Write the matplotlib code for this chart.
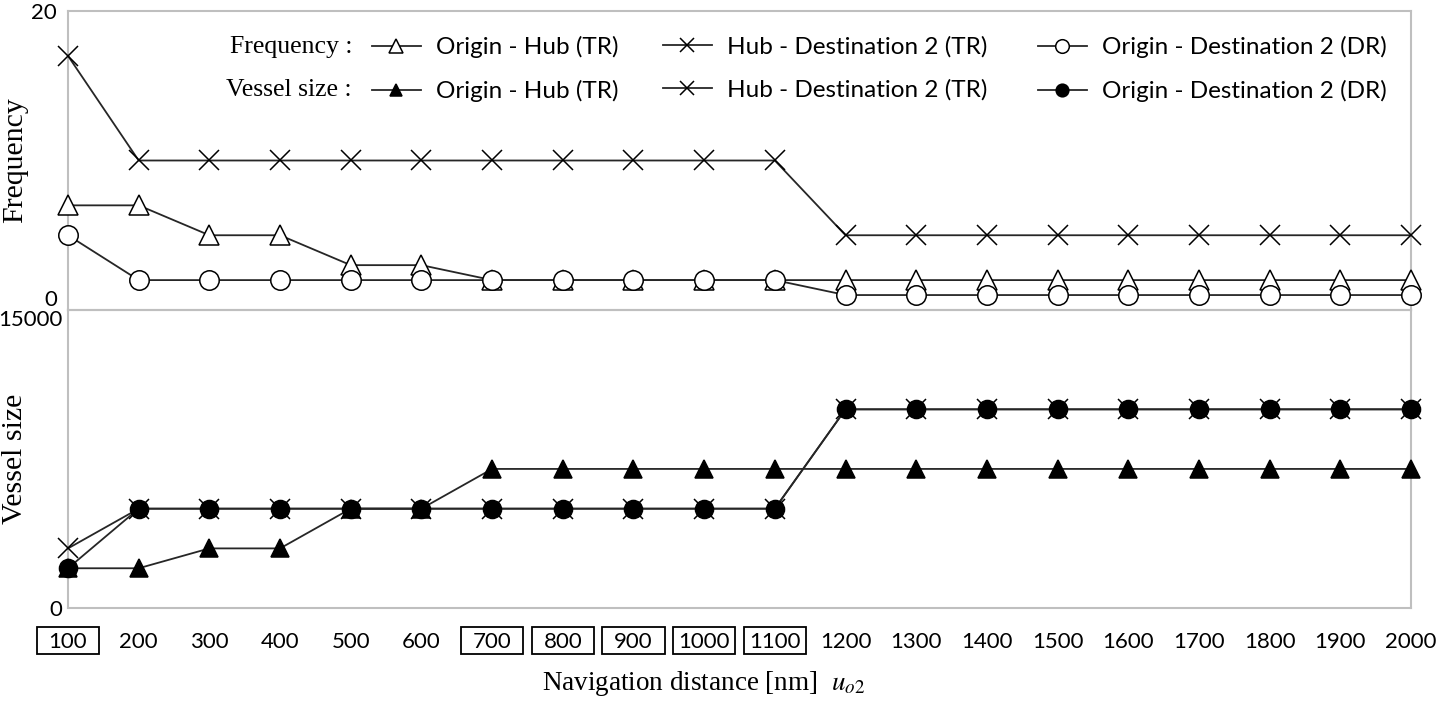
import matplotlib
matplotlib.use('Agg')
import matplotlib.pyplot as plt
from matplotlib.patches import Rectangle
from matplotlib.legend import Legend
import matplotlib.transforms as mtransforms

# ---------------- data ----------------
distances = [100, 200, 300, 400, 500, 600, 700, 800, 900, 1000,
             1100, 1200, 1300, 1400, 1500, 1600, 1700, 1800, 1900, 2000]
boxed_distances = [100, 700, 800, 900, 1000, 1100]

freq_origin_hub = [7, 7, 5, 5, 3, 3, 2, 2, 2, 2, 2, 2, 2, 2, 2, 2, 2, 2, 2, 2]
freq_hub_dest2 = [17, 10, 10, 10, 10, 10, 10, 10, 10, 10, 10, 5, 5, 5, 5, 5, 5, 5, 5, 5]
freq_origin_dest2 = [5, 2, 2, 2, 2, 2, 2, 2, 2, 2, 2, 1, 1, 1, 1, 1, 1, 1, 1, 1]

vs_origin_hub = [2000, 2000, 3000, 3000, 5000, 5000, 7000, 7000, 7000, 7000,
                 7000, 7000, 7000, 7000, 7000, 7000, 7000, 7000, 7000, 7000]
vs_hub_dest2 = [3000, 5000, 5000, 5000, 5000, 5000, 5000, 5000, 5000, 5000,
                5000, 10000, 10000, 10000, 10000, 10000, 10000, 10000, 10000, 10000]
vs_origin_dest2 = [2000, 5000, 5000, 5000, 5000, 5000, 5000, 5000, 5000, 5000,
                   5000, 10000, 10000, 10000, 10000, 10000, 10000, 10000, 10000, 10000]

legend_labels = ["Origin - Hub (TR)", "Hub - Destination 2 (TR)", "Origin - Destination 2 (DR)"]

# ---------------- style ----------------
SANS = ["Lato", "DejaVu Sans"]
SERIF = ["Liberation Serif", "DejaVu Serif"]
plt.rcParams['mathtext.fontset'] = 'stix'
LINE_C = '#262626'
SPINE_C = '#bfbfbf'
TICK_FS = 16
LEG_FS = 17.5

W, H = 1440, 703
fig = plt.figure(figsize=(W / 100, H / 100), dpi=100)

def px_axes(x0, y0, x1, y1):
    return [x0 / W, 1 - y1 / H, (x1 - x0) / W, (y1 - y0) / H]

ax_top = fig.add_axes(px_axes(68, 11, 1411, 310))
ax_bot = fig.add_axes(px_axes(68, 310, 1411, 608))

idx = list(range(len(distances)))

common = dict(color=LINE_C, lw=1.3, markeredgecolor='black', markeredgewidth=1.1, clip_on=False)

l_f_tri, = ax_top.plot(idx, freq_origin_hub, marker='^', ms=15, mfc='white', zorder=3, **common)
l_f_x, = ax_top.plot(idx, freq_hub_dest2, marker='x', ms=14, mfc='white', zorder=3, **common)
l_f_circ, = ax_top.plot(idx, freq_origin_dest2, marker='o', ms=14, mfc='white', zorder=4, **common)

l_v_tri, = ax_bot.plot(idx, vs_origin_hub, marker='^', ms=13, mfc='black', zorder=3, **common)
l_v_x, = ax_bot.plot(idx, vs_hub_dest2, marker='x', ms=14, mfc='black', zorder=3, **common)
l_v_circ, = ax_bot.plot(idx, vs_origin_dest2, marker='o', ms=13, mfc='black', zorder=4, **common)

for ax in (ax_top, ax_bot):
    ax.set_xlim(idx[0], idx[-1])
    for s in ax.spines.values():
        s.set_color(SPINE_C)
        s.set_linewidth(1.5)
    ax.tick_params(axis='both', length=0)
    ax.set_facecolor('none')

ax_top.set_ylim(0, 20)
ax_top.set_yticks([0, 20])
ax_top.set_yticklabels(['0', '20'], fontfamily=SANS, fontsize=TICK_FS)
ax_top.set_xticks([])
ax_top.tick_params(axis='y', pad=8)
ax_top.get_yticklabels()[0].set_va('bottom')

ax_bot.set_ylim(0, 15000)
ax_bot.set_yticks([0, 15000])
ax_bot.set_yticklabels(['0', '15000'], fontfamily=SANS, fontsize=TICK_FS)
ax_bot.tick_params(axis='y', pad=4)
ax_bot.get_yticklabels()[1].set_va('top')

ax_bot.set_xticks(idx)
ax_bot.set_xticklabels([str(d) for d in distances], fontfamily=SANS, fontsize=TICK_FS)
ax_bot.tick_params(axis='x', pad=17)

# boxes around selected tick labels
trans = mtransforms.blended_transform_factory(ax_bot.transData, ax_bot.transAxes)
for d in boxed_distances:
    i = distances.index(d)
    ax_bot.add_patch(Rectangle((i - 0.44, -(654 - 608) / 298), 0.88, 27 / 298,
                               transform=trans, fill=False, ec='black', lw=1.3,
                               clip_on=False))

ax_top.set_ylabel('Frequency', fontfamily=SERIF, fontsize=21.5, va='center')
ax_bot.set_ylabel('Vessel size', fontfamily=SERIF, fontsize=21.5, va='center')
ax_top.yaxis.set_label_coords(-53 / 1343, 0.5)
ax_bot.yaxis.set_label_coords(-53 / 1343, 0.5)

fig.text(704 / W, 1 - 683 / H, r'Navigation distance [nm]  $u_{o2}$',
         fontfamily=SERIF, fontsize=19.5, ha='center', va='center')

# legends: one per route, each with a frequency row and a vessel-size row
pairs = [(l_f_tri, l_v_tri), (l_f_x, l_v_x), (l_f_circ, l_v_circ)]
col_x = [372, 663, 1038]
for (hf, hv), lab, cx in zip(pairs, legend_labels, col_x):
    leg = Legend(ax_top, [hf, hv], [lab, lab], ncol=1, loc='upper left',
                 bbox_to_anchor=((cx - 68) / 1343, (310 - 36) / 299),
                 frameon=False, borderaxespad=0, borderpad=0,
                 prop={'family': SANS, 'size': LEG_FS}, markerscale=0.7,
                 handlelength=2.0, handletextpad=0.65, labelspacing=0.9)
    ax_top.add_artist(leg)

ax_top.text((352 - 68) / 1343, (310 - 47) / 299, 'Frequency :', transform=ax_top.transAxes,
            ha='right', va='center', fontfamily=SERIF, fontsize=18.5)
ax_top.text((352 - 68) / 1343, (310 - 90) / 299, 'Vessel size :', transform=ax_top.transAxes,
            ha='right', va='center', fontfamily=SERIF, fontsize=18.5)

fig.savefig('out.png', dpi=100)
